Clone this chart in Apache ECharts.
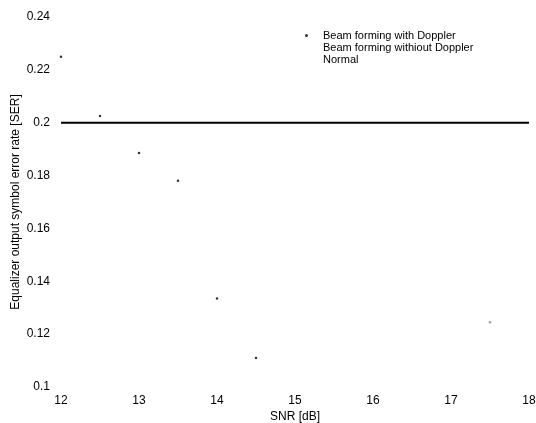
<!DOCTYPE html>
<html>
<head>
<meta charset="utf-8">
<script src="https://cdn.jsdelivr.net/npm/echarts@6/dist/echarts.min.js"></script>
<style>
  html, body { margin: 0; padding: 0; background: #fff; }
  #chart { width: 536px; height: 423px; }
</style>
</head>
<body>
<div id="chart"></div>
<script>
// SNR values (dB) and SER readings
var snrWith = [12, 12.5, 13, 13.5, 14, 14.5]
var serWith = [0.225, 0.2025, 0.1885, 0.178, 0.1335, 0.111]
var snrWithout = [17.5]
var serWithout = [0.1245]
var snrNormal = [12, 18]
var serNormal = [0.2, 0.2]
var legendNames = ['Beam forming with Doppler', 'Beam forming withiout Doppler', 'Normal']

function pairs(xs, ys) {
  var out = []
  for (var i = 0; i < xs.length; i++) {
    out.push([xs[i], ys[i]])
  }
  return out
}

var myChart = echarts.init(document.getElementById('chart'))
var font = 'Liberation Sans, Arial, sans-serif'
var option = {
  animation: false,
  textStyle: { fontFamily: font, color: '#000' },
  grid: { left: 61, right: 7, top: 17, bottom: 36, outerBoundsMode: 'none', containLabel: false },
  legend: {
    orient: 'vertical',
    left: 300,
    top: 25,
    itemGap: 1,
    itemWidth: 3,
    itemHeight: 3,
    textStyle: { fontSize: 11, color: '#000', fontFamily: font, padding: [0, 0, 0, 10] },
    data: [
      { name: legendNames[0], icon: 'circle', itemStyle: { color: '#000' } },
      { name: legendNames[1], icon: 'circle', itemStyle: { opacity: 0 } },
      { name: legendNames[2], icon: 'rect', itemStyle: { opacity: 0 } },
    ],
  },
  xAxis: {
    type: 'value',
    min: 12,
    max: 18,
    interval: 1,
    name: 'SNR [dB]',
    nameLocation: 'middle',
    nameMoveOverlap: false,
    nameGap: 24,
    nameTextStyle: { fontSize: 12, color: '#000' },
    axisLine: { show: false },
    axisTick: { show: false },
    splitLine: { show: false },
    axisLabel: { fontSize: 12, color: '#000', margin: 8 },
  },
  yAxis: {
    type: 'value',
    min: 0.1,
    max: 0.24,
    interval: 0.02,
    name: 'Equalizer output symbol error rate [SER]',
    nameLocation: 'middle',
    nameMoveOverlap: false,
    nameGap: 39,
    nameTextStyle: { fontSize: 12, color: '#000' },
    axisLine: { show: false },
    axisTick: { show: false },
    splitLine: { show: false },
    axisLabel: {
      fontSize: 12,
      color: '#000',
      margin: 11,
      formatter: function (v) { return String(+v.toFixed(2)) },
    },
  },
  series: [
    {
      name: legendNames[0],
      type: 'scatter',
      symbol: 'circle',
      symbolSize: 2.5,
      itemStyle: { color: '#000' },
      data: pairs(snrWith, serWith),
    },
    {
      name: legendNames[1],
      type: 'scatter',
      symbol: 'circle',
      symbolSize: 2.5,
      itemStyle: { color: '#888' },
      data: pairs(snrWithout, serWithout),
    },
    {
      name: legendNames[2],
      type: 'line',
      showSymbol: false,
      lineStyle: { color: '#000', width: 2 },
      data: pairs(snrNormal, serNormal),
    },
  ],
}
myChart.setOption(option)
</script>
</body>
</html>
